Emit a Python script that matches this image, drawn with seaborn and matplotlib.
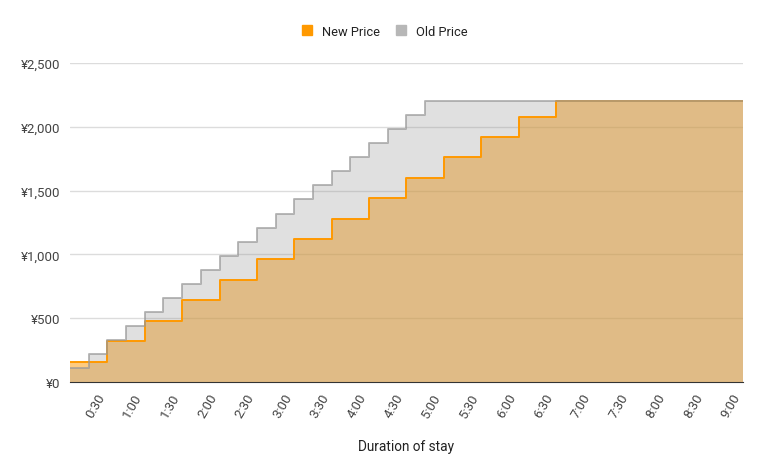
import matplotlib
matplotlib.use('Agg')
import matplotlib.pyplot as plt
import seaborn as sns
import pandas as pd
from matplotlib.lines import Line2D
from matplotlib.ticker import FuncFormatter

# 15-minute slots, end time in minutes
slot_end_min = [15, 30, 45, 60, 75, 90, 105, 120, 135, 150, 165, 180,
                195, 210, 225, 240, 255, 270, 285, 300, 315, 330, 345, 360,
                375, 390, 405, 420, 435, 450, 465, 480, 495, 510, 525, 540]
old_price = [110, 220, 330, 440, 550, 660, 770, 880, 990, 1100, 1210, 1320,
             1430, 1540, 1650, 1760, 1870, 1980, 2090, 2200, 2200, 2200, 2200, 2200,
             2200, 2200, 2200, 2200, 2200, 2200, 2200, 2200, 2200, 2200, 2200, 2200]
new_price = [160, 160, 320, 320, 480, 480, 640, 640, 800, 800, 960, 960,
             1120, 1120, 1280, 1280, 1440, 1440, 1600, 1600, 1760, 1760, 1920, 1920,
             2080, 2080, 2200, 2200, 2200, 2200, 2200, 2200, 2200, 2200, 2200, 2200]
tick_labels = ['0:30', '1:00', '1:30', '2:00', '2:30', '3:00', '3:30', '4:00', '4:30',
               '5:00', '5:30', '6:00', '6:30', '7:00', '7:30', '8:00', '8:30', '9:00']
tick_min = [30, 60, 90, 120, 150, 180, 210, 240, 270,
            300, 330, 360, 390, 420, 450, 480, 510, 540]

ORANGE = '#ff9900'
GREY = '#999999'

sns.set_style('white')
plt.rcParams['font.family'] = ['Roboto', 'DejaVu Sans']

# step edges: start at 0 with the first slot's value
x = [0] + slot_end_min
df = pd.DataFrame({'minutes': x,
                   'old': [old_price[0]] + old_price,
                   'new': [new_price[0]] + new_price})

fig = plt.figure(figsize=(7.68, 4.77), dpi=100)
ax = fig.add_axes([0.0911, 0.197, 0.9674 - 0.0911, 0.866 - 0.197])

ax.fill_between(df['minutes'], df['new'], step='pre', color=ORANGE, alpha=0.5, lw=0, zorder=2)
ax.fill_between(df['minutes'], df['old'], step='pre', color=GREY, alpha=0.3, lw=0, zorder=3)
sns.lineplot(data=df, x='minutes', y='new', drawstyle='steps-pre', color=ORANGE,
             lw=1.4, ax=ax, zorder=4)
sns.lineplot(data=df, x='minutes', y='old', drawstyle='steps-pre', color=GREY,
             alpha=0.7, lw=1.4, ax=ax, zorder=5)

ax.set_xlim(0, 540)
ax.set_ylim(0, 2500)
ax.set_yticks([0, 500, 1000, 1500, 2000, 2500])
ax.yaxis.set_major_formatter(FuncFormatter(lambda v, p: f'¥{int(v):,}'))
ax.set_xticks(tick_min)
ax.set_xticklabels(tick_labels, rotation=60, ha='right', va='bottom', rotation_mode='anchor')
ax.tick_params(axis='both', length=0, labelsize=9.5, colors='#444444')
ax.tick_params(axis='x', pad=11)
ax.tick_params(axis='y', pad=7)
ax.grid(axis='y', color='#dcdcdc', lw=1, zorder=1)
ax.set_axisbelow(True)
for s in ['top', 'right', 'left']:
    ax.spines[s].set_visible(False)
ax.spines['bottom'].set_color('#333333')
ax.spines['bottom'].set_zorder(1.5)

ax.set_xlabel('Duration of stay', fontsize=9.8, color='#222222', labelpad=14)
ax.set_ylabel('')

handles = [Line2D([], [], marker='s', ls='', color=ORANGE, markersize=7),
           Line2D([], [], marker='s', ls='', color='#b7b7b7', markersize=7)]
fig.legend(handles, ['New Price', 'Old Price'], loc='center', bbox_to_anchor=(0.5, 0.932),
           ncol=2, frameon=False, fontsize=9.3, handlelength=1.0, handletextpad=0.65,
           columnspacing=1.12, labelcolor='#222222')

fig.savefig('out.png', dpi=100)
